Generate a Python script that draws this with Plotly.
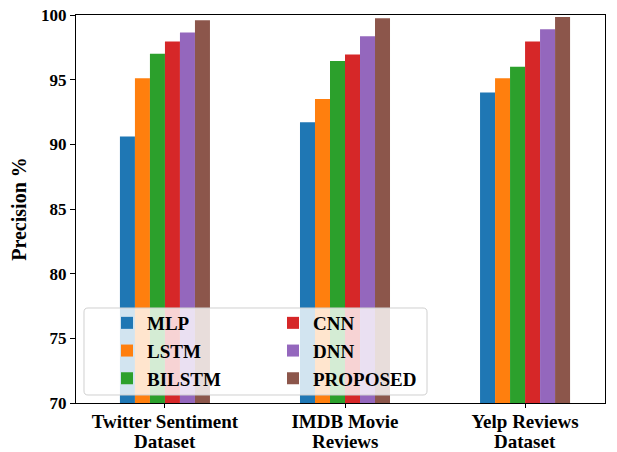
import plotly.graph_objects as go

cat_line1 = ["Twitter Sentiment", "IMDB Movie", "Yelp Reviews"]
cat_line2 = ["Dataset", "Reviews", "Dataset"]
models = ["MLP", "LSTM", "BILSTM", "CNN", "DNN", "PROPOSED"]
mlp = [90.6, 91.7, 94.0]
lstm = [95.1, 93.5, 95.1]
bilstm = [97.0, 96.45, 96.0]
cnn = [97.95, 96.95, 97.95]
dnn = [98.65, 98.35, 98.9]
proposed = [99.6, 99.75, 99.85]
series = [mlp, lstm, bilstm, cnn, dnn, proposed]
colors = ["#1f77b4", "#ff7f0e", "#2ca02c", "#d62728", "#9467bd", "#8c564b"]
y_ticks = [70, 75, 80, 85, 90, 95, 100]

FONT = "Liberation Serif"
OFF = 8  # page body margin
W, H = 617 - OFF, 452 - OFF
# plot area in screenshot pixels: x 76..605, y 15..403
ML = 76 - OFF
MT = 15 - OFF
MR = (W + OFF) - 605
MB = (H + OFF) - 403
PW = W - ML - MR
PH = H - MT - MB

fig = go.Figure()
xpos = list(range(len(cat_line1)))
for i, (name, vals, col) in enumerate(zip(models, series, colors)):
    fig.add_trace(go.Bar(
        x=xpos, y=vals, name=name, marker=dict(color=col, line=dict(width=0)),
        legend="legend" if i < 3 else "legend2",
        legendgroup=name,
    ))

def px2paper_x(p):
    return (p - OFF - ML) / PW

def px2paper_y(p):
    return (H - MB - (p - OFF)) / PH

leg_common = dict(
    bgcolor="rgba(0,0,0,0)", borderwidth=0,
    font=dict(family=FONT, size=19, color="black", weight="bold"),
    xanchor="left", yanchor="top", traceorder="grouped", tracegroupgap=0,
    itemwidth=30,
)

annotations = [
    dict(x=x, xref="x", y=px2paper_y(441.5), yref="paper", text=t,
         showarrow=False, xanchor="center", yanchor="middle",
         font=dict(family=FONT, size=19, color="black", weight="bold"))
    for x, t in zip(xpos, cat_line2)
]

# rounded legend frame
bx0, bx1, by0, by1, r = 84, 427, 308, 395, 4
def P(x, y):
    return f"{px2paper_x(x):.5f},{px2paper_y(y):.5f}"
frame_path = (
    f"M{P(bx0 + r, by0)} L{P(bx1 - r, by0)} Q{P(bx1, by0)} {P(bx1, by0 + r)} "
    f"L{P(bx1, by1 - r)} Q{P(bx1, by1)} {P(bx1 - r, by1)} "
    f"L{P(bx0 + r, by1)} Q{P(bx0, by1)} {P(bx0, by1 - r)} "
    f"L{P(bx0, by0 + r)} Q{P(bx0, by0)} {P(bx0 + r, by0)} Z"
)

fig.update_layout(
    width=W, height=H,
    margin=dict(l=ML, r=MR, t=MT, b=MB, pad=0),
    paper_bgcolor="white", plot_bgcolor="white",
    barmode="group", bargap=0.5, bargroupgap=0,
    showlegend=True,
    legend=dict(x=px2paper_x(107), y=px2paper_y(304), **leg_common),
    legend2=dict(x=px2paper_x(273), y=px2paper_y(304), **leg_common),
    xaxis=dict(
        range=[-0.494, 2.444], tickvals=xpos, ticktext=cat_line1,
        showline=True, linecolor="black", linewidth=1, mirror=True,
        ticks="outside", ticklen=4, tickcolor="black",
        tickfont=dict(family=FONT, size=19, color="black", weight="bold"),
        ticklabelstandoff=-3,
        showgrid=False, zeroline=False, automargin=False,
    ),
    yaxis=dict(
        range=[70, 100], tickvals=y_ticks, ticktext=[str(v) for v in y_ticks],
        showline=True, linecolor="black", linewidth=1, mirror=True,
        ticks="outside", ticklen=5, tickcolor="black",
        tickfont=dict(family=FONT, size=17, color="black", weight="bold"),
        ticklabeloverflow="allow",
        showgrid=False, zeroline=False, automargin=False,
        title=dict(text="Precision %", font=dict(family=FONT, size=20, color="black", weight="bold"), standoff=17),
    ),
    annotations=annotations,
    shapes=[dict(
        type="path", xref="paper", yref="paper", layer="above", path=frame_path,
        fillcolor="rgba(255,255,255,0.8)", line=dict(color="#d0d0d0", width=1),
    )],
)

fig.write_html("out.html")
